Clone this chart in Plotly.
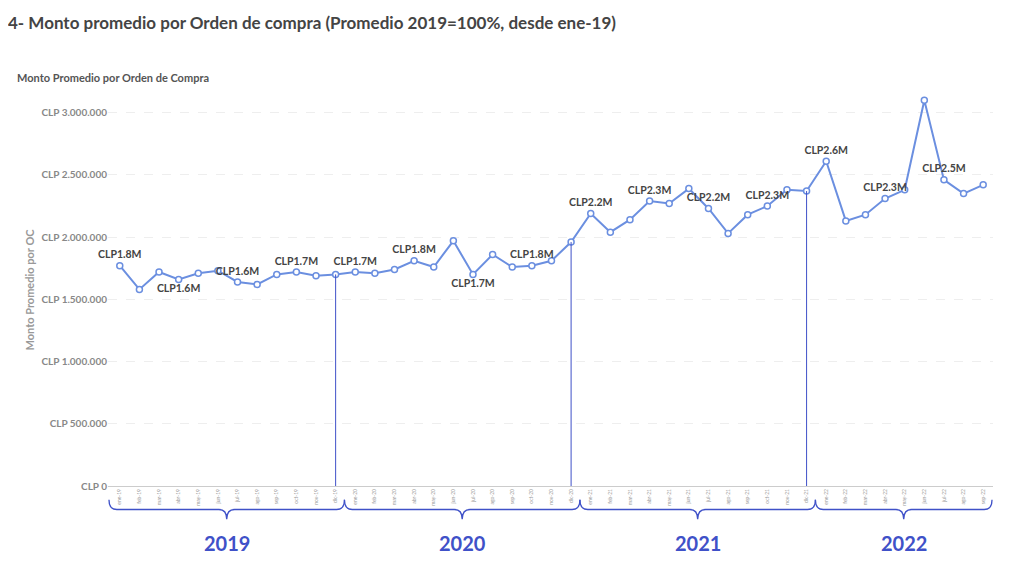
import plotly.graph_objects as go

months = ["ene", "feb", "mar", "abr", "may", "jun", "jul", "ago", "sep", "oct", "nov", "dic"]
years = ["2019", "2020", "2021", "2022"]
periods = [f"{m}-{y[2:]}" for y in years for m in months][:45]

monto = [
    1.77, 1.58, 1.72, 1.66, 1.71, 1.73, 1.64, 1.62, 1.70, 1.72, 1.69, 1.70,
    1.72, 1.71, 1.74, 1.81, 1.76, 1.97, 1.70, 1.86, 1.76, 1.77, 1.81, 1.96,
    2.19, 2.04, 2.14, 2.29, 2.27, 2.39, 2.23, 2.03, 2.18, 2.25, 2.38, 2.37,
    2.61, 2.13, 2.18, 2.31, 2.38, 3.10, 2.46, 2.35, 2.42,
]
monto = [v * 1e6 for v in monto]
label_idx = [0, 3, 6, 9, 12, 15, 18, 21, 24, 27, 30, 33, 36, 39, 42]
label_txt = ["CLP1.8M", "CLP1.6M", "CLP1.6M", "CLP1.7M", "CLP1.7M", "CLP1.8M", "CLP1.7M",
             "CLP1.8M", "CLP2.2M", "CLP2.3M", "CLP2.2M", "CLP2.3M", "CLP2.6M", "CLP2.3M",
             "CLP2.5M"]
label_below = {3, 18}
ytick_vals = [0, 500000, 1000000, 1500000, 2000000, 2500000, 3000000]

idx = list(range(len(monto)))
line_col = "#6b8fe0"
blue = "#3f51c8"

labels = [""] * len(monto)
positions = ["top center"] * len(monto)
for i, t in zip(label_idx, label_txt):
    labels[i] = f"<b>{t}</b>"
    if i in label_below:
        positions[i] = "bottom center"

fig = go.Figure(go.Scatter(
    x=idx, y=monto, mode="lines+markers+text",
    line=dict(color=line_col, width=2),
    marker=dict(size=6, color="white", line=dict(color=line_col, width=1.5)),
    text=labels, textposition=positions, cliponaxis=False,
    textfont=dict(family="Lato", size=10.5, color="#444"),
    hoverinfo="skip",
))

for k, y in enumerate(years):
    start = k * 12
    end = min(start + 11, len(monto) - 1)
    x0, x1 = start - 0.55, end + 0.45
    if k < len(years) - 1:
        fig.add_shape(type="line", x0=end, x1=end, y0=0, y1=monto[end],
                      xref="x", yref="y", line=dict(color=blue, width=1))
    mid = (x0 + x1) / 2
    path = (f"M {x0},-0.035 Q {x0},-0.06 {x0+0.4},-0.06 L {mid-0.4},-0.06 "
            f"Q {mid},-0.06 {mid},-0.085 Q {mid},-0.06 {mid+0.4},-0.06 "
            f"L {x1-0.4},-0.06 Q {x1},-0.06 {x1},-0.035")
    fig.add_shape(type="path", path=path, xref="x", yref="paper",
                  line=dict(color=blue, width=1.3))
    fig.add_annotation(x=mid, y=-0.18, xref="x", yref="paper", text=f"<b>{y}</b>",
                       showarrow=False, font=dict(family="Lato", size=20, color=blue))

fig.update_layout(
    width=1014, height=579, plot_bgcolor="white", paper_bgcolor="white",
    margin=dict(l=100, r=29, t=86, b=101), showlegend=False,
    font=dict(family="Lato", color="#555"),
    title=dict(text="<b>4- Monto promedio por Orden de compra (Promedio 2019=100%, desde ene-19)</b>",
               x=0.0, xanchor="left", y=0.985, yanchor="top",
               font=dict(family="Lato", size=17, color="#444")),
)
fig.add_annotation(text="<b>Monto Promedio por Orden de Compra</b>", xref="paper", yref="paper",
                   x=-0.105, y=1.065, xanchor="left", showarrow=False,
                   font=dict(size=11, color="#555"))
fig.update_yaxes(
    range=[0, 3.15e6], tickvals=ytick_vals,
    ticktext=["<b>CLP " + f"{v:,}".replace(",", ".") + "</b>" for v in ytick_vals],
    tickfont=dict(size=10, color="#888"), showgrid=True, gridcolor="#eeeeee",
    griddash="dash", zeroline=False,
    title=dict(text="<b>Monto Promedio por OC</b>", font=dict(size=11, color="#999"), standoff=4),
)
fig.update_xaxes(
    range=[-0.6, 44.5], tickvals=idx, ticktext=periods, tickangle=-90,
    tickfont=dict(size=5, color="#999"), showgrid=False, showline=True,
    linecolor="#ccc", mirror=False, zeroline=False, automargin=False,
)
fig.write_html("out.html")
